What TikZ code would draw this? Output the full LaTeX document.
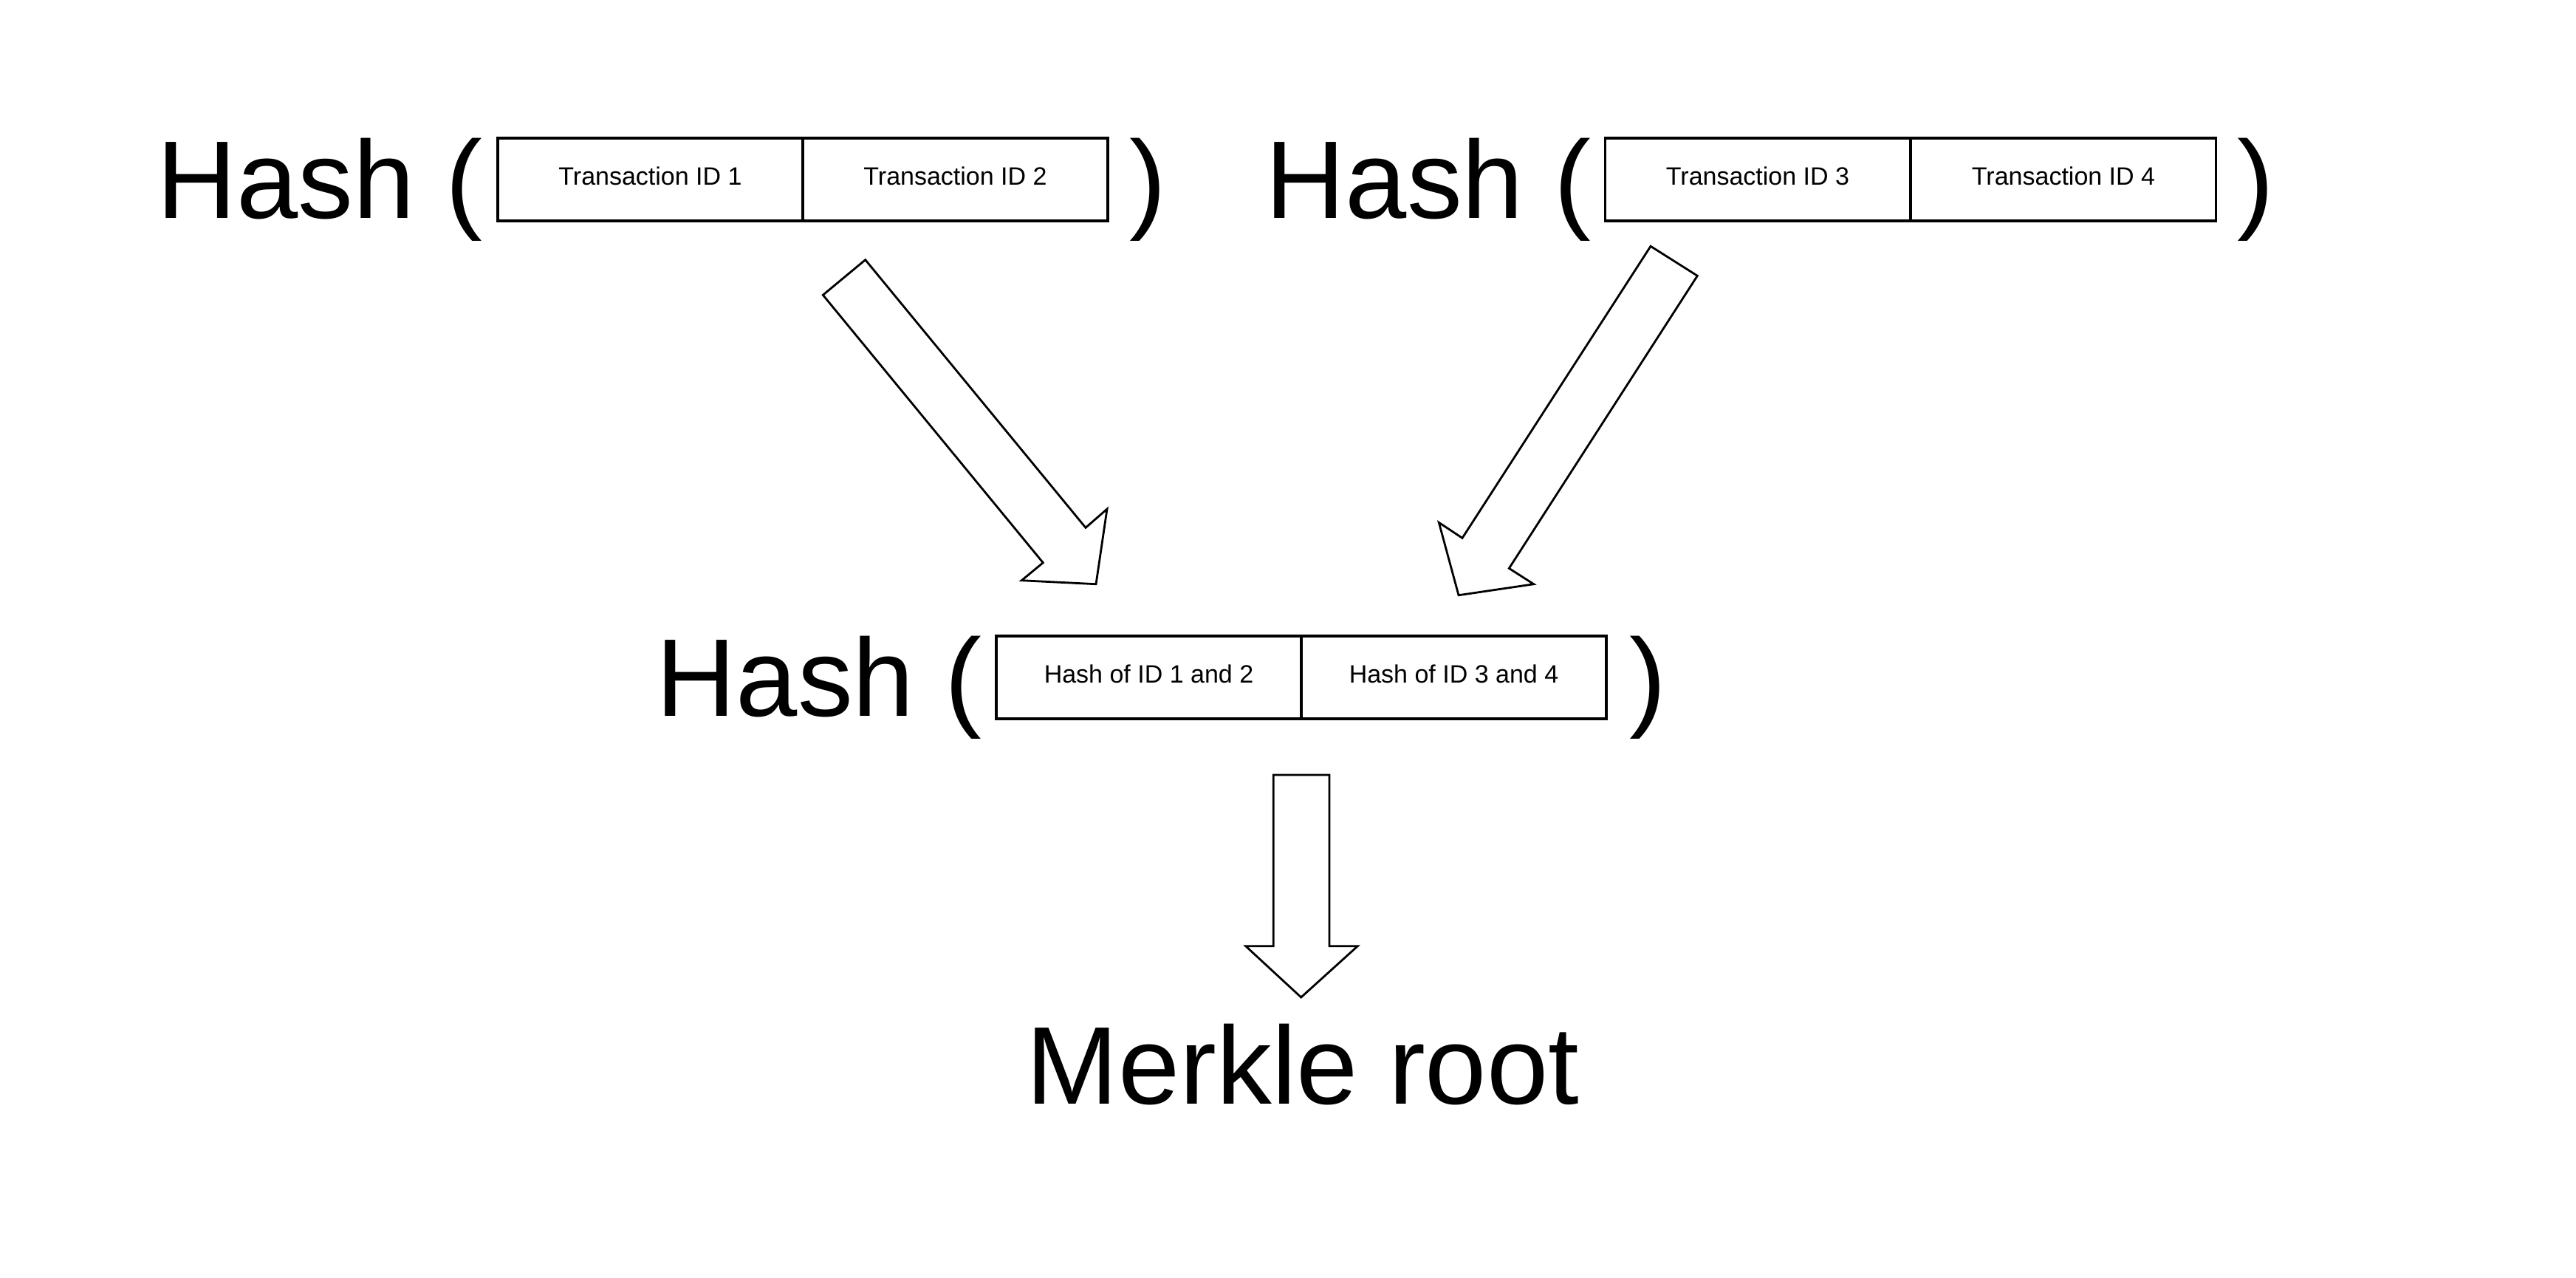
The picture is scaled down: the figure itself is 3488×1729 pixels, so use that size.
\documentclass[tikz,border=0pt]{standalone}
\usepackage{fontspec}
\setmainfont{Liberation Sans}
\tikzset{
  cell/.style={draw, line width=0.8pt, minimum width=103.25pt, minimum height=28pt, inner sep=0pt,
    font=\fontsize{8.5pt}{10pt}\selectfont, text height=0.68em, text depth=0.3em},
  big/.style={inner sep=0pt, font=\fontsize{37.4pt}{44pt}\selectfont},
  blockarrow/.style={draw, line width=0.7pt, fill=white, line join=miter}
}
\begin{document}
\begin{tikzpicture}[x=0.25pt,y=-0.25pt]
\useasboundingbox (0,0) rectangle (3488,1729);
% row 1 left
\node[big, anchor=base west] (h1) at (212,295) {Hash (};
\node[cell] (t1) at (880.5,243) {Transaction ID 1};
\node[cell] (t2) at (1293.5,243) {Transaction ID 2};
\node[big, anchor=base west] (p1) at (1529,295) {)};
% row 1 right
\node[big, anchor=base west] (h2) at (1713,295) {Hash (};
\node[cell] (t3) at (2380,243) {Transaction ID 3};
\node[cell] (t4) at (2794,243) {Transaction ID 4};
\node[big, anchor=base west] (p2) at (3029,295) {)};
% row 2
\node[big, anchor=base west] (h3) at (888,969) {Hash (};
\node[cell] (m1) at (1555.5,917) {Hash of ID 1 and 2};
\node[cell] (m2) at (1968.5,917) {Hash of ID 3 and 4};
\node[big, anchor=base west] (p3) at (2206,969) {)};
% root
\node[big, anchor=base] (root) at (1764,1494) {Merkle root};
% block arrows
\draw[blockarrow] (1171.7,351.7) -- (1470,714.3) -- (1499,689) -- (1484,790.7)
  -- (1383.3,785.7) -- (1412.3,761.7) -- (1114.3,399.3) -- cycle;
\draw[blockarrow] (2235,333.3) -- (2298.3,373.3) -- (2043.3,769.3) -- (2076.7,790.7)
  -- (1975,805.7) -- (1948.3,707.3) -- (1980,728.3) -- cycle;
\draw[blockarrow] (1724.3,1049) -- (1800,1049) -- (1800,1280.7) -- (1838.3,1280.7)
  -- (1761.7,1350) -- (1686.7,1280.7) -- (1724.3,1280.7) -- cycle;
\end{tikzpicture}
\end{document}
